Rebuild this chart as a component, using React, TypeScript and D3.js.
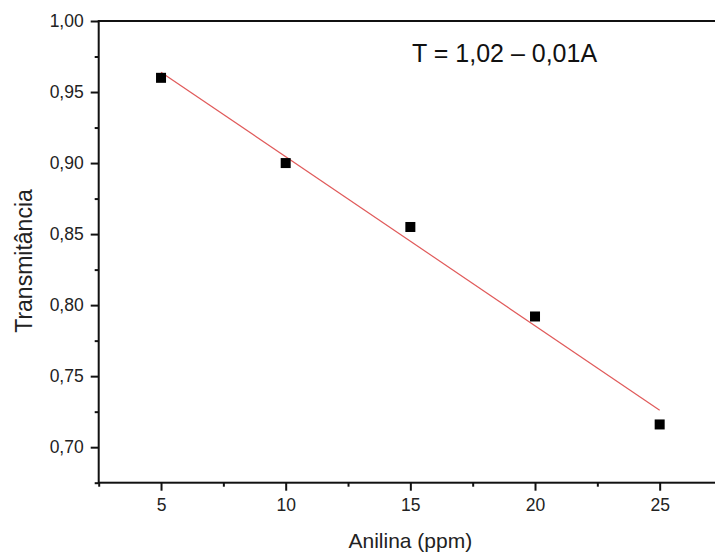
import { useEffect, useRef } from "react";
import * as d3 from "d3";

// data
const anilina = [5, 10, 15, 20, 25];
const transmitancia = [0.96, 0.9, 0.855, 0.792, 0.716];
// linear fit line end points
const fitX = [5, 25];
const fitY = [0.964, 0.726];

const xMajor = [5, 10, 15, 20, 25];
const xMinor = [2.5, 7.5, 12.5, 17.5, 22.5];
const yMajor = [0.7, 0.75, 0.8, 0.85, 0.9, 0.95, 1.0];
const yMinor = [0.675, 0.725, 0.775, 0.825, 0.875, 0.925, 0.975];

const equation = "T = 1,02 \u2013 0,01A";

const W = 715;
const H = 553;
const font = "'Liberation Sans', Arial, Helvetica, sans-serif";

const ptBr = d3.formatLocale({
  decimal: ",",
  thousands: ".",
  grouping: [3],
  currency: ["", ""],
});

export default function App() {
  const ref = useRef<SVGSVGElement>(null);

  useEffect(() => {
    if (!ref.current) return;
    const svg = d3.select(ref.current);
    svg.selectAll("*").remove();

    const x = d3.scaleLinear().domain([2.5, 27.5]).range([98.7, 722]);
    const y = d3.scaleLinear().domain([0.675, 1.0]).range([482.7, 21]);

    // frame (right edge falls outside the picture)
    svg
      .append("rect")
      .attr("x", x(2.5))
      .attr("y", y(1.0))
      .attr("width", x(27.5) - x(2.5))
      .attr("height", y(0.675) - y(1.0))
      .attr("fill", "none")
      .attr("stroke", "#111")
      .attr("stroke-width", 2);

    const styleAxis = (g: any) => {
      g.select(".domain").remove();
      g.selectAll("line").attr("stroke", "#111").attr("stroke-width", 2);
      g.selectAll("text")
        .attr("fill", "#222")
        .style("font-family", font)
        .style("font-size", "17.5px");
    };

    // y axis
    svg
      .append("g")
      .attr("transform", `translate(${x(2.5)},0)`)
      .call(
        d3
          .axisLeft(y)
          .tickValues(yMajor)
          .tickSize(8)
          .tickPadding(7)
          .tickFormat(ptBr.format(".2f") as any)
      )
      .call(styleAxis);
    svg
      .append("g")
      .attr("transform", `translate(${x(2.5)},0)`)
      .call(d3.axisLeft(y).tickValues(yMinor).tickSize(4).tickFormat(() => ""))
      .call(styleAxis);

    // x axis
    svg
      .append("g")
      .attr("transform", `translate(0,${y(0.675)})`)
      .call(
        d3
          .axisBottom(x)
          .tickValues(xMajor)
          .tickSize(8)
          .tickPadding(8)
          .tickFormat(d3.format("d") as any)
      )
      .call(styleAxis);
    svg
      .append("g")
      .attr("transform", `translate(0,${y(0.675)})`)
      .call(d3.axisBottom(x).tickValues(xMinor).tickSize(4).tickFormat(() => ""))
      .call(styleAxis);

    // fit line
    const line = d3
      .line<number>()
      .x((d) => x(d))
      .y((_, i) => y(fitY[i]));
    svg
      .append("path")
      .attr("d", line(fitX))
      .attr("fill", "none")
      .attr("stroke", "#e05a5a")
      .attr("stroke-width", 1.2);

    // points
    const s = 10;
    svg
      .selectAll("rect.pt")
      .data(anilina)
      .join("rect")
      .attr("class", "pt")
      .attr("x", (d) => x(d) - s / 2)
      .attr("y", (_, i) => y(transmitancia[i]) - s / 2)
      .attr("width", s)
      .attr("height", s)
      .attr("fill", "#000");

    // equation
    svg
      .append("text")
      .attr("x", 412)
      .attr("y", 62)
      .attr("fill", "#111")
      .style("font-family", font)
      .style("font-size", "25px")
      .text(equation);

    // axis titles
    svg
      .append("text")
      .attr("x", (x(2.5) + x(27.5)) / 2)
      .attr("y", 548)
      .attr("text-anchor", "middle")
      .attr("fill", "#222")
      .style("font-family", font)
      .style("font-size", "21px")
      .text("Anilina (ppm)");

    svg
      .append("text")
      .attr("transform", `translate(32,261) rotate(-90)`)
      .attr("text-anchor", "middle")
      .attr("fill", "#222")
      .style("font-family", font)
      .style("font-size", "23px")
      .text("Transmitância");
  }, []);

  return (
    <svg
      ref={ref}
      width={W}
      height={H}
      style={{ position: "absolute", left: 0, top: 0, background: "#fff" }}
    />
  );
}
